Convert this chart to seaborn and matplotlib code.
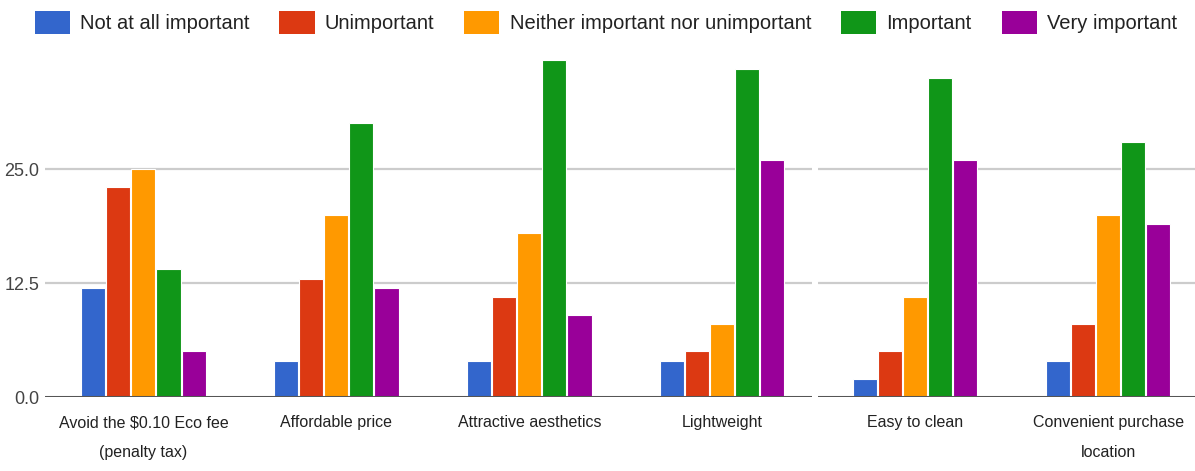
import matplotlib
matplotlib.use("Agg")
import matplotlib.pyplot as plt
from matplotlib.patches import Patch, Rectangle
import seaborn as sns
import pandas as pd

# Survey responses (count of respondents) per product attribute
attributes = [
    "Avoid the $0.10 Eco fee\n(penalty tax)",
    "Affordable price",
    "Attractive aesthetics",
    "Lightweight",
    "Easy to clean",
    "Convenient purchase\nlocation",
]
levels = [
    "Not at all important",
    "Unimportant",
    "Neither important nor unimportant",
    "Important",
    "Very important",
]
not_at_all = [12, 4, 4, 4, 2, 4]
unimportant = [23, 13, 11, 5, 5, 8]
neither = [25, 20, 18, 8, 11, 20]
important = [14, 30, 37, 36, 35, 28]
very_important = [5, 12, 9, 26, 26, 19]
y_ticks = [0.0, 12.5, 25.0]

colors = ["#3366CC", "#DC3912", "#FF9900", "#109618", "#990099"]

series = [not_at_all, unimportant, neither, important, very_important]
rows = []
for level, vals in zip(levels, series):
    for attr, v in zip(attributes, vals):
        rows.append({"attribute": attr, "level": level, "count": v})
df = pd.DataFrame(rows)

sns.set_theme(style="white")
plt.rcParams["font.family"] = ["Liberation Sans", "DejaVu Sans"]
text_color = "#222222"

fig = plt.figure(figsize=(11.95, 4.71), dpi=100)
ax = fig.add_axes([45 / 1195, 0.157, 1 - 45 / 1195, 0.883 - 0.157])

sns.barplot(
    data=df, x="attribute", y="count", hue="level",
    order=attributes, hue_order=levels, palette=colors,
    width=0.65, gap=0.04, edgecolor="#ffffff", linewidth=0.8,
    saturation=1.0, legend=False, ax=ax, zorder=3,
)

ax.set_ylim(0, 37.5)
ax.set_xlim(-0.51, 5.45)
ax.set_yticks(y_ticks)
ax.set_yticklabels([f"{t:.1f}" for t in y_ticks])
for t in y_ticks[1:]:
    ax.axhline(t, color="#cccccc", lw=1.6, zorder=1)
ax.axhline(0, color="#555555", lw=2.2, zorder=4)

ax.set_xlabel("")
ax.set_ylabel("")
for s in ax.spines.values():
    s.set_visible(False)
ax.tick_params(axis="y", length=0, pad=4, labelsize=13, labelcolor="#444444")
ax.tick_params(axis="x", length=0, pad=13, labelsize=11.5, labelcolor=text_color)
for lab in ax.get_xticklabels():
    lab.set_linespacing(2.2)

handles = [Patch(facecolor=c, edgecolor="none") for c in colors]
fig.legend(
    handles, levels, loc="center", bbox_to_anchor=(0.507, 0.953), ncol=5,
    frameon=False, fontsize=14.5, handlelength=1.74, handleheight=1.39,
    handletextpad=0.5, columnspacing=1.5, borderpad=0, labelcolor=text_color,
)

# thin white break across the plot area
fig.patches.append(Rectangle((812 / 1195, 0.14), 6 / 1195, 0.76,
                             transform=fig.transFigure, facecolor="white",
                             edgecolor="none", zorder=10))

fig.savefig("out.png", dpi=100)
